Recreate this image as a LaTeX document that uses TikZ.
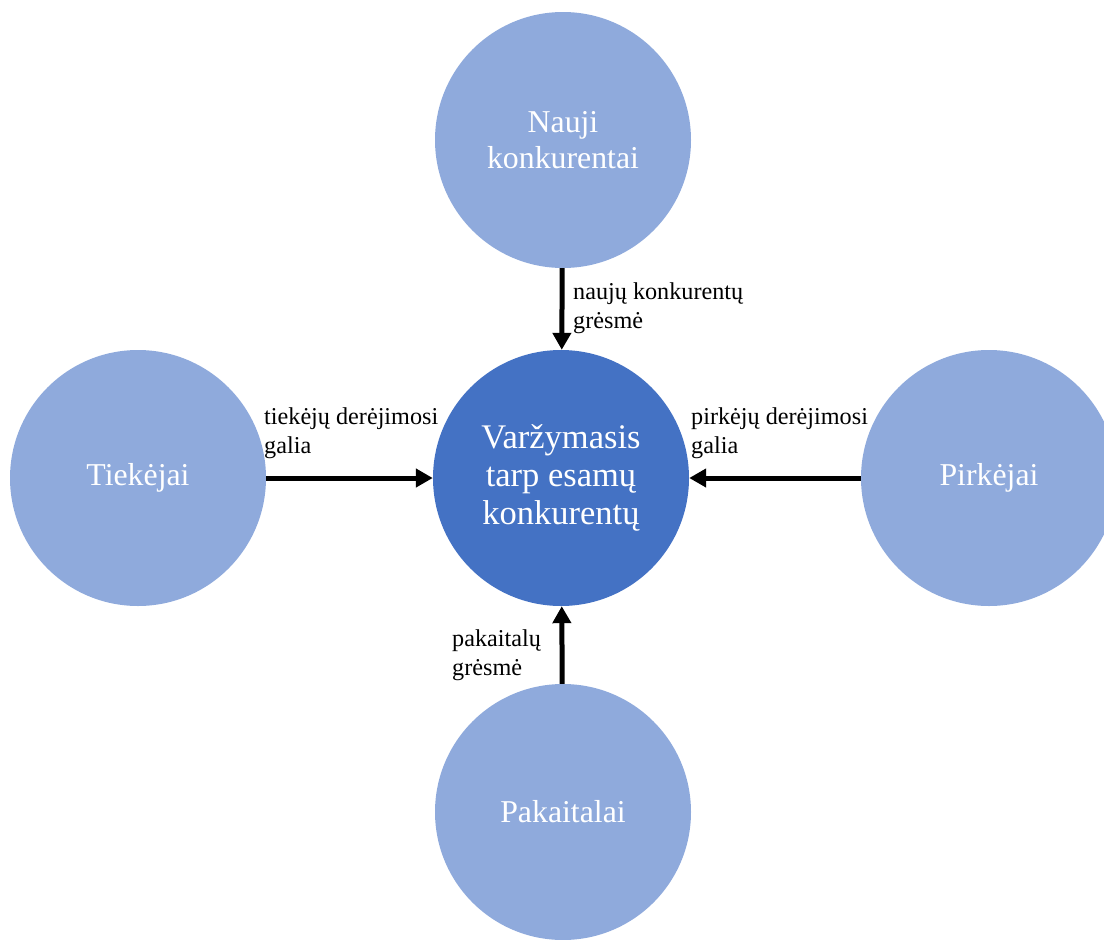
\documentclass[tikz,border=0pt]{standalone}
\usepackage{fontspec}
\setmainfont{Liberation Serif}
\usepackage{xcolor}
\usetikzlibrary{arrows.meta}

\definecolor{lightblue}{HTML}{8FAADC}
\definecolor{darkblue}{HTML}{4472C4}

\tikzset{
  force/.style={circle, fill=lightblue, minimum size=256pt, inner sep=0pt,
    text=white, align=center, font=\fontsize{31.8}{36}\selectfont},
  rivalry/.style={force, fill=darkblue, font=\fontsize{34.5}{38}\selectfont},
  arr/.style={line width=5pt, -{Triangle[length=17pt,width=18pt]}},
  lbl/.style={anchor=north west, inner sep=0pt, align=left,
    font=\fontsize{24.2}{28.5}\selectfont}
}

\begin{document}
\begin{tikzpicture}[x=1pt,y=-1pt]
        \useasboundingbox (0,0) rectangle (1104,940);
        \node[rivalry](mid) at (561,478) {Varžymasis\\tarp esamų\\konkurentų};
        \node[force](nauji) at (563,140) {Nauji\\konkurentai};
        \node[force](tiek) at (138,478) {Tiekėjai};
        \node[force](pirk) at (989,478) {Pirkėjai};
        \node[force](pak) at (563,812) {Pakaitalai};
        \draw[arr](nauji)--(mid);
        \draw[arr](tiek)--(mid);
        \draw[arr](pirk)--(mid);
        \draw[arr](pak)--(mid);
        \node[lbl](lnauji) at (573,283) {naujų konkurentų\\grėsmė};
        \node[lbl](ltiek) at (264,408) {tiekėjų derėjimosi\\galia};
        \node[lbl](lpirk) at (691,408) {pirkėjų derėjimosi\\galia};
        \node[lbl](lpak) at (452,630) {pakaitalų\\grėsmė};
        \end{tikzpicture}
\end{document}
